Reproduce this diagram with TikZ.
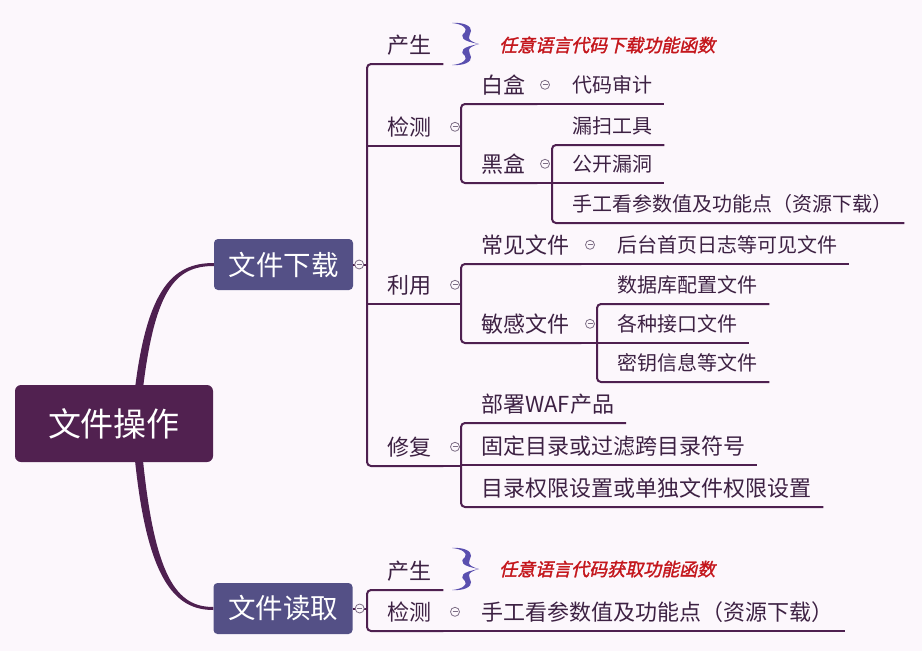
\documentclass[tikz,border=0pt]{standalone}
\usepackage{fontspec}
\setmainfont{Noto Sans CJK SC}
\newfontfamily\notefont{Noto Sans CJK SC}[FakeSlant=0.22,FakeBold=1.6]
\usepackage{tikz}
\usetikzlibrary{calc}
\pgfdeclarelayer{bg}
\pgfsetlayers{bg,main}
\definecolor{bgc}{HTML}{FCF7FC}
\definecolor{linec}{HTML}{4E2050}
\definecolor{rootc}{HTML}{512150}
\definecolor{mainc}{HTML}{545086}
\definecolor{textc}{HTML}{3D2143}
\definecolor{bracec}{HTML}{5A4FAF}
\definecolor{notec}{HTML}{C4161C}
\definecolor{dotc}{HTML}{7D6E85}

\begin{document}
\begin{tikzpicture}[x=1pt,y=-1pt,
  rootbox/.style={fill=rootc, rounded corners=6pt, minimum width=198pt, minimum height=77pt, inner sep=0pt, text=white, font=\fontsize{33}{33}\selectfont},
  mainbox/.style={fill=mainc, rounded corners=4pt, minimum width=139pt, minimum height=51pt, inner sep=0pt, text=white, font=\fontsize{27.5}{27.5}\selectfont},
  branch/.style={draw=linec, line width=2pt},
  topic/.style={anchor=south west, inner sep=0pt, minimum height=38pt, text=textc, font=\fontsize{22}{22}\selectfont, execute at begin node=\hspace*{20pt}, execute at end node=\hspace*{12pt}},
  leaf/.style={topic, font=\fontsize{20}{20}\selectfont},
  note/.style={anchor=west, inner sep=0pt, text=notec, font=\notefont\fontsize{18}{18}\selectfont},
  collapse/.style={circle, draw=dotc, fill=bgc, line width=0.8pt, minimum size=9pt, inner sep=0pt,
    path picture={\draw[dotc, line width=0.8pt] ([xshift=-2.5pt]path picture bounding box.center) -- ([xshift=2.5pt]path picture bounding box.center);}},
  brace/.style={fill=bracec}]

	% central topic and main branches

	\node[rootbox] (root) at (114,423.5) {文件操作};
	\node[mainbox] (xiazai) at (283.5,264.5) {文件下载};
	\node[mainbox] (duqu) at (283,608.5) {文件读取};

	\begin{pgfonlayer}{bg}
	\fill[bgc] (0,0) rectangle (922,651);
	\fill[linec] ($(root.north)+(20,12)$) .. controls ($(root.north)+(32,-95)$) and ($(xiazai.west)+(-42,-1.5)$) .. ($(xiazai.west)+(0,-1.5)$) -- ($(xiazai.west)+(0,1.5)$) .. controls ($(xiazai.west)+(-39,1.5)$) and ($(root.north)+(40,-95)$) .. ($(root.north)+(28,12)$) -- cycle;
	\fill[linec] ($(root.south)+(20,-12)$) .. controls ($(root.south)+(32,117)$) and ($(duqu.west)+(-39,1.5)$) .. ($(duqu.west)+(0,1.5)$) -- ($(duqu.west)+(0,-1.5)$) .. controls ($(duqu.west)+(-36,-1.5)$) and ($(root.south)+(40,117)$) .. ($(root.south)+(28,-12)$) -- cycle;
	\end{pgfonlayer}

	% file download

	\node[topic] (xz-cs) at (367,64) {产生};
	\node[topic] (xz-jc) at (367,146) {检测};
	\node[topic] (xz-ly) at (367,304) {利用};
	\node[topic] (xz-xf) at (367,466) {修复};

	\node[topic] (baihe) at (461,104) {白盒};
	\node[topic] (heihe) at (461,183) {黑盒};
	\node[leaf] (dmsj) at (552,104) {代码审计};
	\node[leaf] (lsgj) at (552,145) {漏扫工具};
	\node[leaf] (gkld) at (552,183) {公开漏洞};
	\node[leaf] (sgk) at (552,223) {手工看参数值及功能点（资源下载）};

	\node[topic] (cjwj) at (461,264) {常见文件};
	\node[topic] (mgwj) at (461,343) {敏感文件};
	\node[leaf] (htsy) at (597,264) {后台首页日志等可见文件};
	\node[leaf] (sjk) at (597,304) {数据库配置文件};
	\node[leaf] (jkwj) at (597,343) {各种接口文件};
	\node[leaf] (myxx) at (597,382) {密钥信息等文件};

	\node[topic] (bswaf) at (461,423) {部署WAF产品};
	\node[topic] (gdml) at (461,465) {固定目录或过滤跨目录符号};
	\node[topic] (mlqx) at (461,507) {目录权限设置或单独文件权限设置};

	\draw[branch] (xiazai.east) -- (xiazai.east -| xz-cs.south west);
	\draw[branch, rounded corners=4pt] (xz-cs.south east) -- (xz-cs.south west) -- (xz-xf.south west) -- (xz-xf.south east);
	\draw[branch] (xz-jc.south west) -- (xz-jc.south east) -- (xz-jc.south east -| baihe.south west);
	\draw[branch] (xz-ly.south west) -- (xz-ly.south east) -- (xz-ly.south east -| cjwj.south west);
	\draw[branch] (xz-xf.south east) -- (xz-xf.south east -| bswaf.south west);

	\draw[branch, rounded corners=4pt] (baihe.south east) -- (baihe.south west) -- (heihe.south west) -- (heihe.south east);
	\draw[branch] (baihe.south east) -- (dmsj.south east);
	\draw[branch, rounded corners=4pt] (lsgj.south east) -- (lsgj.south west) -- (sgk.south west) -- (sgk.south east);
	\draw[branch] (heihe.south east) -- (gkld.south east);

	\draw[branch, rounded corners=4pt] (cjwj.south east) -- (cjwj.south west) -- (mgwj.south west) -- (mgwj.south east);
	\draw[branch] (cjwj.south east) -- (htsy.south east);
	\draw[branch, rounded corners=4pt] (sjk.south east) -- (sjk.south west) -- (myxx.south west) -- (myxx.south east);
	\draw[branch] (mgwj.south east) -- (jkwj.south east);

	\draw[branch, rounded corners=4pt] (bswaf.south east) -- (bswaf.south west) -- (mlqx.south west) -- (mlqx.south east);
	\draw[branch] (gdml.south west) -- (gdml.south east);

	% file read

	\node[topic] (dq-cs) at (367,590) {产生};
	\node[topic] (dq-jc) at (367,631) {检测};
	\node[topic] (dq-sgk) at (461,631) {手工看参数值及功能点（资源下载）};

	\draw[branch] (duqu.east) -- (duqu.east -| dq-cs.south west);
	\draw[branch, rounded corners=4pt] (dq-cs.south east) -- (dq-cs.south west) -- (dq-jc.south west) -- (dq-jc.south east);
	\draw[branch] (dq-jc.south east) -- (dq-sgk.south east);

	% collapse markers

	\node[collapse] at ($(xiazai.east)+(6,0)$) {};
	\node[collapse] at ($(duqu.east)+(7,0)$) {};
	\node[collapse] at ($(xz-jc.center -| baihe.south west)+(-6,0)$) {};
	\node[collapse] at ($(xz-ly.center -| cjwj.south west)+(-6,0)$) {};
	\node[collapse] at ($(xz-xf.center -| bswaf.south west)+(-6,0)$) {};
	\node[collapse] at ($(baihe.center -| dmsj.south west)+(-7,0)$) {};
	\node[collapse] at ($(heihe.center -| gkld.south west)+(-7,0)$) {};
	\node[collapse] at ($(cjwj.center -| htsy.south west)+(-7,0)$) {};
	\node[collapse] at ($(mgwj.center -| jkwj.south west)+(-7,0)$) {};
	\node[collapse] at ($(dq-jc.center -| dq-sgk.south west)+(-6,0)$) {};

	% braces and notes

	\foreach \by in {44,569}{
		\foreach \flip in {1,-1}{
			\fill[brace, shift={(463,\by)}, yscale=\flip] (-11,-21) .. controls (0,-22) and (9,-18) .. (8,-13) .. controls (7,-8) and (1,-4) .. (16,0) .. controls (-1,-3) and (-4,-7) .. (2,-12) .. controls (5,-16) and (-1,-20) .. (-11,-21) -- cycle;
		}
	}
	\node[note] (xz-note) at (499,45) {任意语言代码下载功能函数};
	\node[note] (dq-note) at (499,569) {任意语言代码获取功能函数};

\end{tikzpicture}
\end{document}
